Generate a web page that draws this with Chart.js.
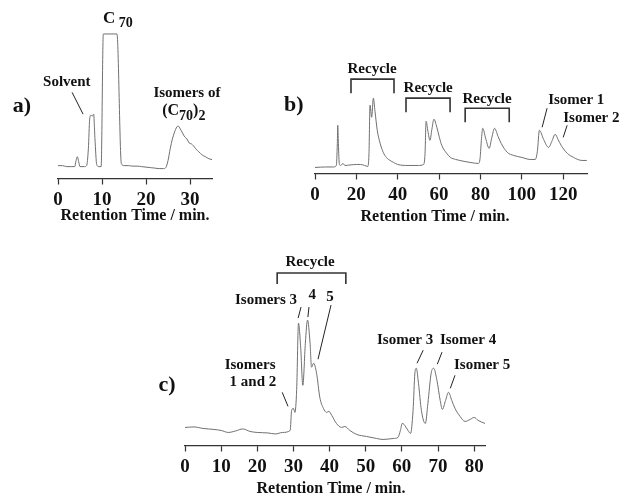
<!DOCTYPE html>
<html>
<head>
<meta charset="utf-8">
<script src="https://cdn.jsdelivr.net/npm/chart.js@4.4.1/dist/chart.umd.min.js"></script>
<style>
  html, body { margin: 0; padding: 0; background: #fff; overflow: hidden; width: 619px; height: 495px; }
  canvas { position: absolute; }
</style>
</head>
<body>
<canvas id="chartA" width="290" height="225" style="left:0;top:0"></canvas>
<canvas id="chartB" width="344" height="226" style="left:275px;top:0"></canvas>
<canvas id="chartC" width="469" height="253" style="left:150px;top:245px"></canvas>
<script>
// retention time (min) and detector signal (arb. units)
const timeA = [0, 1, 2, 3, 3.8, 4.1, 4.4, 4.7, 5.0, 6.0, 6.5, 6.9, 7.2, 7.5, 7.8, 8.1, 8.4, 8.8, 9.3, 9.8, 10.3, 13.4, 14.4, 15, 16, 17, 18, 19, 20, 21, 22, 23, 24, 24.5, 25, 25.5, 26, 26.5, 27, 27.3, 27.8, 28.3, 28.8, 29.3, 29.8, 30.3, 30.8, 31.3, 32, 32.7, 33.5, 34.3, 35];
const signalA = [13, 13, 12, 12, 12, 18, 22, 17, 12, 12, 13, 30, 60, 64, 63, 65, 40, 14, 12, 12, 146, 146, 15, 13, 13, 12.5, 12.5, 12, 11.5, 11, 10.5, 10, 10, 11, 18, 30, 40, 47, 52, 53, 50, 46, 42, 40, 36, 35, 33, 30, 27, 24, 22, 20, 19];

const timeB = [0, 5, 9, 10.3, 10.8, 11.0, 11.3, 11.8, 12.5, 13.5, 14.5, 17, 20, 22, 24, 25.5, 26.1, 26.6, 27.4, 28.2, 29, 30.1, 31.5, 33, 34.5, 36.3, 38, 40, 45, 50, 52.5, 53.2, 53.7, 54.6, 55.6, 56.5, 57.5, 58.9, 60, 61.3, 63.7, 65.5, 68, 70, 75, 79, 79.8, 80.5, 81.1, 82.5, 84.2, 85.5, 86.8, 88.5, 90, 93, 96, 100, 104, 106.5, 107.5, 108.5, 110.5, 112.9, 114.5, 116.1, 117.5, 119, 122, 125, 127, 129, 131.4];
const signalB = [6, 6.5, 6.5, 8, 30, 48, 30, 9, 8, 10, 8, 8.5, 9, 9, 8, 7, 20, 68, 56, 75, 62, 43, 30, 21, 16, 13, 11, 9, 8, 8, 9, 20, 52, 42, 33, 44, 54, 46, 37, 28, 20, 16, 14, 13, 11, 10, 15, 35, 45, 35, 25, 36, 45, 37, 30, 21, 18, 16, 14, 14, 22, 43, 34, 26, 32, 39, 34, 28, 20, 16, 14, 13, 13];

const timeC = [0, 2.5, 5, 8, 10, 12, 14, 16, 18, 20, 23, 25, 27, 29.1, 29.5, 30, 30.4, 30.9, 31.4, 32, 32.6, 33.3, 33.9, 34.6, 35, 35.6, 36.4, 37.3, 38.3, 39.2, 39.8, 40.6, 41.9, 43.3, 44.2, 45.6, 47.5, 50.2, 53, 54.8, 57.6, 58.9, 59.6, 60.1, 60.6, 61.7, 62.4, 63.1, 63.6, 64, 64.6, 65.4, 66.5, 67.2, 68.1, 68.8, 69.7, 70.6, 71.2, 72.1, 72.9, 73.8, 74.7, 76.1, 77.5, 78.9, 80, 81.1, 83];
const signalC = [18, 18.5, 17, 16, 15, 13, 14.5, 16.5, 14, 13, 12.5, 11.5, 13, 15, 35, 37, 33, 56, 122, 98, 60, 102, 125, 102, 78, 82, 72, 48, 37, 33, 34, 30, 22, 18, 19, 15, 11, 9, 7, 6, 7, 8, 15, 22, 21, 15, 12, 35, 72, 77, 62, 35, 22, 42, 72, 77, 65, 45, 36, 45, 53, 45, 37, 29, 24, 26, 28, 25, 22];

const axisTitle = 'Retention Time / min.';

const SERIF = '"Liberation Serif", "DejaVu Serif", serif';
const INK = '#111';
const TRACE = '#707070';

// annotation plugin: labels, leader lines and recycle brackets in data units
function notesPlugin(id, notes) {
  return {
    id: id,
    afterDatasetsDraw(chart) {
      const { ctx, scales: { x, y } } = chart;
      ctx.save();
      ctx.strokeStyle = '#222';
      ctx.lineWidth = 1;
      (notes.lines || []).forEach(l => {
        ctx.beginPath();
        ctx.moveTo(x.getPixelForValue(l[0]), y.getPixelForValue(l[1]));
        ctx.lineTo(x.getPixelForValue(l[2]), y.getPixelForValue(l[3]));
        ctx.stroke();
      });
      ctx.lineWidth = 1.6;
      ctx.strokeStyle = '#333';
      (notes.brackets || []).forEach(b => {
        const x1 = x.getPixelForValue(b[0]), x2 = x.getPixelForValue(b[1]);
        const top = y.getPixelForValue(b[2]), bot = y.getPixelForValue(b[3]);
        ctx.beginPath();
        ctx.moveTo(x1, bot); ctx.lineTo(x1, top); ctx.lineTo(x2, top); ctx.lineTo(x2, bot);
        ctx.stroke();
      });
      ctx.fillStyle = INK;
      ctx.textBaseline = 'middle';
      (notes.texts || []).forEach(t => {
        const size = t.size || 15;
        const parts = t.parts || [[t.text, 0]];
        const fontFor = sub => 'bold ' + (sub ? Math.round(size * 0.85) : size) + 'px ' + SERIF;
        let total = 0;
        parts.forEach(p => { ctx.font = fontFor(p[1]); total += ctx.measureText(p[0]).width; });
        let px = x.getPixelForValue(t.x);
        const py = y.getPixelForValue(t.y);
        if (!t.align || t.align === 'center') px -= total / 2;
        else if (t.align === 'right') px -= total;
        ctx.textAlign = 'left';
        parts.forEach(p => {
          ctx.font = fontFor(p[1]);
          ctx.fillText(p[0], px, py + (p[1] ? size * 0.3 : 0));
          px += ctx.measureText(p[0]).width;
        });
      });
      ctx.restore();
    }
  };
}

function buildChart(id, xs, ys, cfg) {
  // trailing spaces nudge the centred axis title to the left, as in the figure
  const title = axisTitle + '\u00a0'.repeat(cfg.titleNudge || 0);
  return new Chart(document.getElementById(id), {
    type: 'line',
    data: {
      datasets: [{
        data: xs.map((t, i) => ({ x: t, y: ys[i] })),
        borderColor: TRACE,
        borderWidth: 1,
        pointRadius: 0,
        cubicInterpolationMode: 'monotone',
        fill: false
      }]
    },
    options: {
      responsive: false,
      animation: false,
      devicePixelRatio: 1,
      layout: { padding: cfg.pad },
      plugins: { legend: { display: false }, tooltip: { enabled: false } },
      scales: {
        x: {
          type: 'linear', min: 0, max: cfg.xMax,
          grid: { drawOnChartArea: false, color: '#333', tickLength: 6, tickWidth: 1.2 },
          border: { color: '#333', width: 1.2 },
          ticks: {
            stepSize: cfg.step, includeBounds: false, autoSkip: false, maxRotation: 0,
            padding: 4, color: INK,
            font: { family: SERIF, size: 19, weight: 'bold' }
          },
          title: {
            display: true, text: title, color: INK,
            font: { family: SERIF, size: 16, weight: 'bold' },
            padding: { top: cfg.titlePad, bottom: 0 }
          }
        },
        y: { display: false, min: 0, max: cfg.yMax }
      }
    },
    plugins: [notesPlugin(id + 'Notes', cfg.notes)]
  });
}

buildChart('chartA', timeA, signalA, {
  xMax: 35, step: 10, yMax: 150, titlePad: -9.5,
  pad: { left: 58, right: 78, top: 30, bottom: 0 },
  notes: {
    texts: [
      { text: 'a)', x: -8.2, y: 73, size: 22 },
      { text: 'Solvent', x: 2.0, y: 97 },
      { parts: [['C', 0], [' 70', 1]], x: 10.2, y: 162, align: 'left', size: 17 },
      { text: 'Isomers of', x: 29.3, y: 86 },
      { parts: [['(C', 0], ['70', 1], [')', 0], ['2', 1]], x: 28.6, y: 68, size: 16 }
    ],
    lines: [[3.2, 87, 5.7, 65]]
  }
});

buildChart('chartB', timeB, signalB, {
  xMax: 131.5, step: 20, yMax: 113, titlePad: -3.5, titleNudge: 8,
  pad: { left: 40, right: 32, top: 60, bottom: 0 },
  notes: {
    texts: [
      { text: 'b)', x: -10.2, y: 68, size: 22 },
      { text: 'Recycle', x: 27.6, y: 104 },
      { text: 'Recycle', x: 54.7, y: 85 },
      { text: 'Recycle', x: 83.2, y: 74 },
      { text: 'Isomer 1', x: 126.3, y: 73 },
      { text: 'Isomer 2', x: 120, y: 55, align: 'left' }
    ],
    brackets: [[17.4, 38.2, 94, 80], [44.0, 65.3, 75, 61], [72.6, 93.9, 65, 51]],
    lines: [[112.2, 65, 109.8, 46], [121.9, 48, 120, 36]]
  }
});

buildChart('chartC', timeC, signalC, {
  xMax: 83, step: 10, yMax: 155, titlePad: -3.5, titleNudge: 2,
  pad: { left: 35, right: 134, top: 45, bottom: 0 },
  notes: {
    texts: [
      { text: 'c)', x: -5.0, y: 60, size: 22 },
      { text: 'Recycle', x: 34.6, y: 183 },
      { text: 'Isomers 3', x: 31.0, y: 145, align: 'right' },
      { text: '4', x: 35.2, y: 150 },
      { text: '5', x: 40.1, y: 148 },
      { text: 'Isomers', x: 18.0, y: 80 },
      { text: '1 and 2', x: 18.8, y: 63 },
      { text: 'Isomer 3', x: 60.9, y: 105 },
      { text: 'Isomer 4', x: 78.3, y: 105 },
      { text: 'Isomer 5', x: 82.2, y: 80 }
    ],
    brackets: [[25.5, 44.5, 172, 161]],
    lines: [[32.1, 138, 31.3, 127], [34.3, 138, 34.0, 128], [40.4, 140, 36.8, 86],
            [26.9, 53, 28.5, 39], [65.9, 95, 64.2, 82], [71.1, 93, 69.8, 81], [74.7, 70, 73.4, 57]]
  }
});
</script>
</body>
</html>
